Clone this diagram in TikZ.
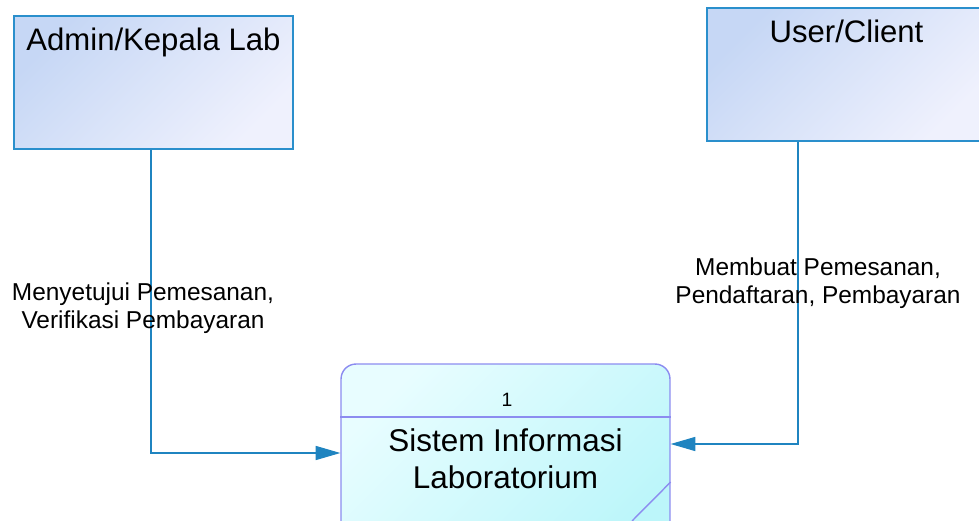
\documentclass[tikz,border=0pt]{standalone}
\usepackage{fontspec}
\setmainfont{Liberation Sans}
\usetikzlibrary{arrows.meta,positioning}

\definecolor{entitydraw}{HTML}{2A8FCC}
\definecolor{entitytop}{HTML}{C6D7F5}
\definecolor{entitybottom}{HTML}{EFF1FD}
\definecolor{procdraw}{HTML}{8C8CF0}
\definecolor{proctop}{HTML}{E8FDFF}
\definecolor{procbottom}{HTML}{BCF6FA}
\definecolor{flowdraw}{HTML}{1F84C0}

\tikzset{
  entity/.style={draw=entitydraw, line width=0.8pt, rectangle,
    minimum width=5.58cm, minimum height=2.66cm,
    top color=entitytop, bottom color=entitybottom, shading angle=45},
  entitytext/.style={anchor=north, yshift=-3.8pt,
    font=\fontsize{17.7}{21}\selectfont},
  process/.style={draw=procdraw, line width=0.8pt, rectangle,
    rounded corners=0.3cm, minimum width=6.58cm, minimum height=3.92cm,
    top color=proctop, bottom color=procbottom, shading angle=45},
  flow/.style={draw=flowdraw, line width=0.6pt,
    -{Triangle[length=14pt,width=8pt]}},
  flowlabel/.style={align=center, font=\fontsize{13.9}{15.9}\selectfont}
}

\begin{document}
\begin{tikzpicture}[x=0.02cm,y=-0.02cm]
  \clip (0,0) rectangle (979,520);

  % external entities
  \node[entity, label={[entitytext]north:Admin/Kepala Lab}] (admin) at (153.5,82.5) {};
  \node[entity, label={[entitytext]north:User/Client}] (user) at (846.5,74.5) {};

  % process
  \node[process] (proc) at (505.5,462) {};
  \draw[procdraw, line width=0.8pt] (proc.west |- 0,417) -- (proc.east |- 0,417);
  \draw[procdraw, line width=0.8pt] (proc.east |- 0,482) -- (632,521);
  \node[font=\fontsize{11}{13}\selectfont] (procnum) at (507,400) {1};
  \node[align=center, font=\fontsize{17.9}{21}\selectfont] (procname) at (505.5,458.5)
    {Sistem Informasi\\Laboratorium};

  % data flows
  \draw[flow] (admin.south -| 151,0) |- (proc.west |- 0,453);
  \draw[flow] (user.south -| 798,0) |- (proc.east |- 0,444);
  \node[flowlabel] (lblsetuju) at (143,308) {Menyetujui Pemesanan,\\Verifikasi Pembayaran};
  \node[flowlabel] (lblpesan) at (818,283) {Membuat Pemesanan,\\Pendaftaran, Pembayaran};
\end{tikzpicture}
\end{document}
